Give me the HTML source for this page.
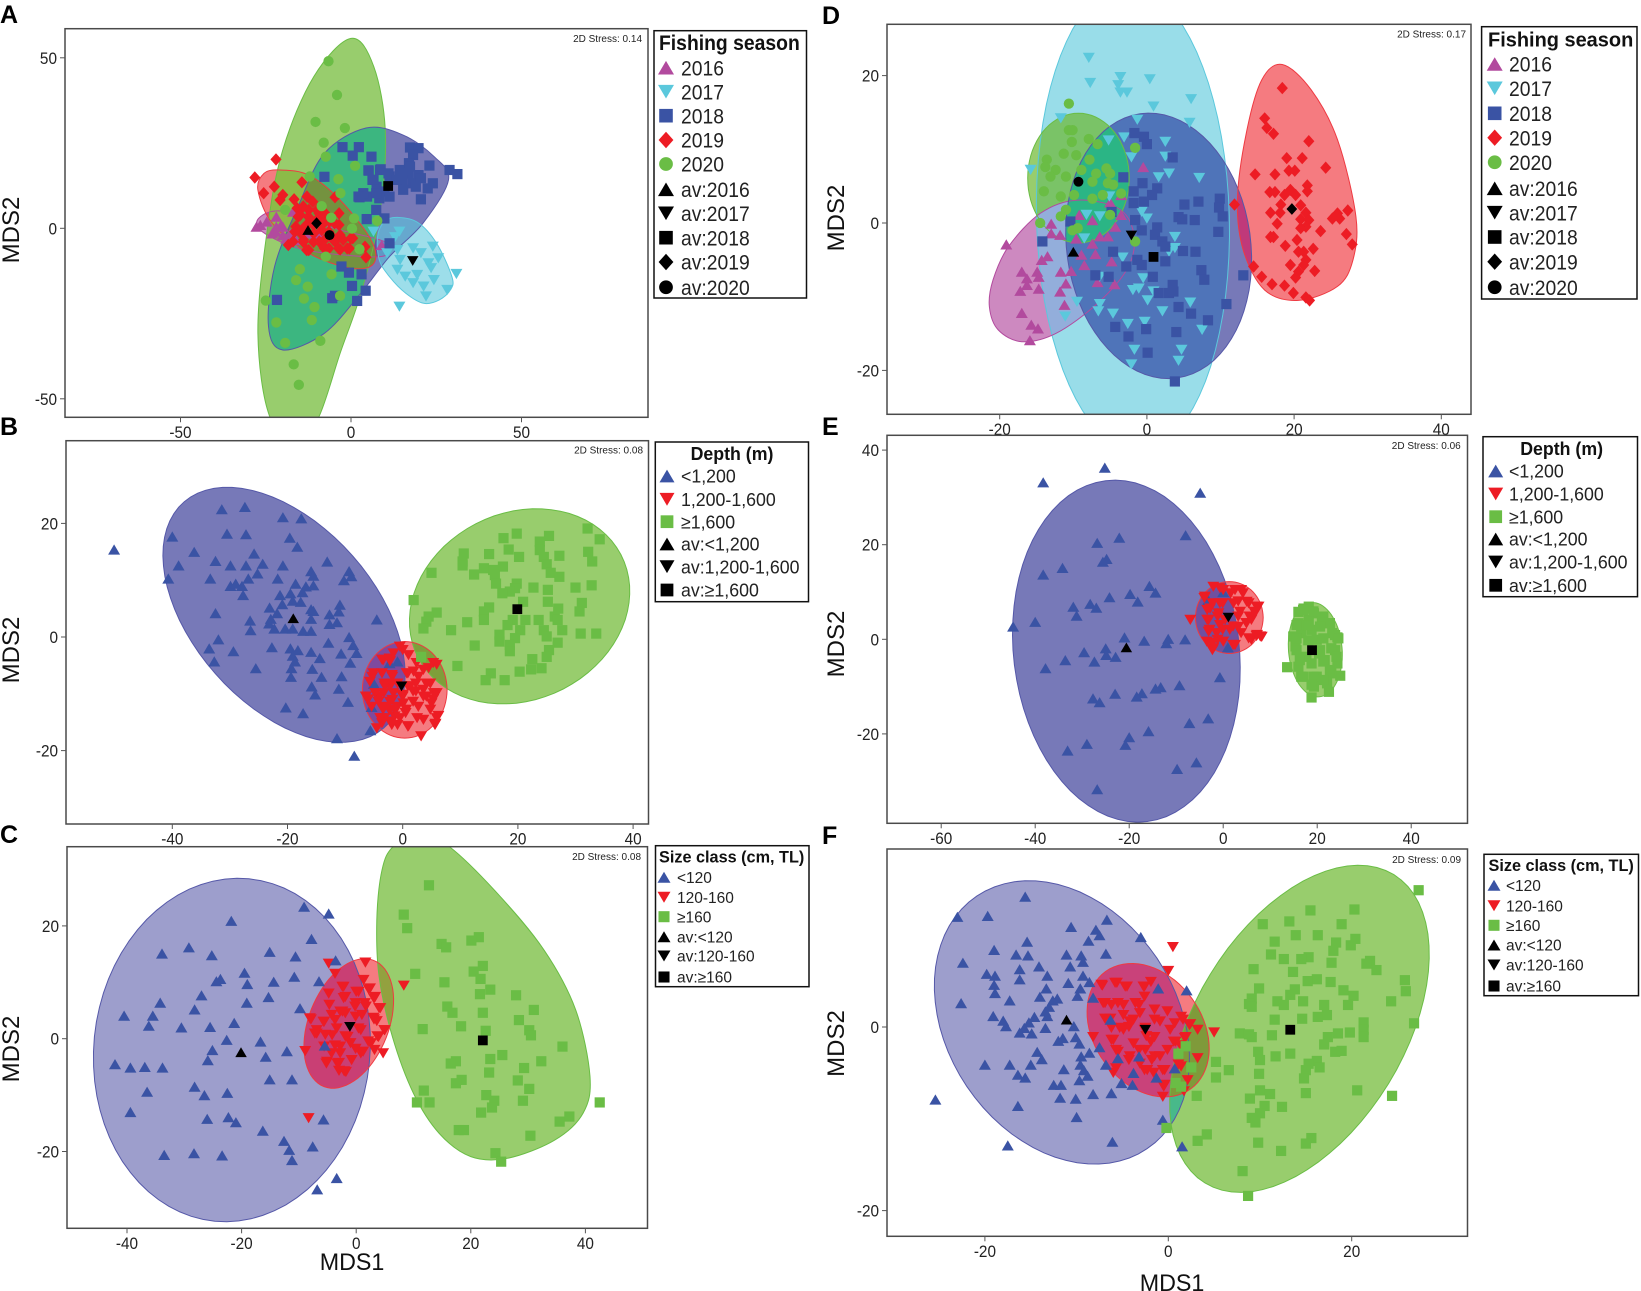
<!DOCTYPE html>
<html lang="en">
<head>
<meta charset="utf-8">
<title>MDS ordination panels A–F</title>
<style>
html,body{margin:0;padding:0;background:#fff;}
svg{display:block;font-family:"Liberation Sans",Arial,sans-serif;}
</style>
</head>
<body>
<svg id="figure" xmlns="http://www.w3.org/2000/svg" width="1641" height="1291" viewBox="0 0 1641 1291"></svg>
<script>
/* ---------- shared labels ---------- */
const seasonLabels=['2016','2017','2018','2019','2020','av:2016','av:2017','av:2018','av:2019','av:2020'];
const depthLabels=['<1,200','1,200-1,600','≥1,600','av:<1,200','av:1,200-1,600','av:≥1,600'];
const sizeLabels=['<120','120-160','≥160','av:<120','av:120-160','av:≥160'];
const stressValues={A:'0.14',B:'0.08',C:'0.08',D:'0.17',E:'0.06',F:'0.09'};

/* ---------- tick labels ---------- */
const aXTicks=[-50,0,50], aYTicks=[50,0,-50];
const bXTicks=[-40,-20,0,20,40], bYTicks=[20,0,-20];
const cXTicks=[-40,-20,0,20,40], cYTicks=[20,0,-20];
const dXTicks=[-20,0,20,40], dYTicks=[20,0,-20];
const eXTicks=[-60,-40,-20,0,20,40], eYTicks=[40,20,0,-20];
const fXTicks=[-20,0,20], fYTicks=[0,-20];

/* ---------- panel A ---------- */
const aHull2020=[[0,55.7],[6.7,47.4],[10.1,27.9],[8.3,3.4],[2.9,-19.1],[-3.2,-36.7],[-9.3,-55],[-15.4,-63],[-23.9,-55],[-27.3,-30.8],[-24.7,-1.5],[-20,23],[-10.9,44.5]];
const aHull2018=[[4.4,29.4],[15.2,27.4],[24.4,21],[28.6,14.2],[21.1,1.5],[11.3,-8.3],[2.9,-19],[-7.8,-30.8],[-20,-35.7],[-24.2,-28.8],[-22.4,-11.2],[-15.5,6.4],[-7.8,22]];
const aHull2019=[[-20.8,17.1],[-12.4,15.6],[-3.2,8.3],[5.9,-3.4],[6.7,-10.3],[0,-11.7],[-12.4,-7.3],[-23.1,1.5],[-27.3,11.2],[-25.5,16.1]];
const aHull2017=[[13.6,3.2],[19.6,1.7],[25.1,-4.4],[29.6,-14.2],[29.2,-18],[25.9,-21],[21.3,-22],[16,-19],[11.3,-14.2],[8.3,-9.3],[7.8,-2.4],[9.8,2]];
const aHull2016=[[-27,3],[-20,5],[-5,0],[10,-4],[10,-8],[0,-8],[-15,-6],[-26,-1]];
const a2016=[[-26.6,1],[-21.9,3.4],[-21.9,.5],[-20,-2],[-17.8,-1.5],[-27.7,.5],[-23.1,-1.5],[-17,4.9],[-12.4,-1.5],[9,-4.9],[-9.3,-1.5],[-20,.5],[-24.7,2],[-22,-1],[-20.5,1],[-19,-3],[-16,-3.5]];
const a2017=[[6.6,-1],[14.2,-1],[12.9,-2.6],[18.2,-5.9],[24,-5.4],[13.6,-6.4],[25.6,-8.8],[14.4,-9.3],[22.7,-10.3],[13.6,-12.2],[19.4,-13.7],[23.5,-11.7],[30.9,-13.4],[15.9,-14.2],[24.3,-15.2],[18.2,-16.1],[22,-20],[28.2,-18.1],[14.2,-23],[10.6,-7.3],[20.5,-7.3],[21.3,-17.1]];
const a2018=[[-2.5,23.8],[2.3,23.8],[.5,21.3],[6,21],[17.3,23.7],[19.8,23.5],[18.2,21.5],[17,19.1],[23,18.4],[28.9,17.1],[31.2,15.9],[5.2,16.9],[8.7,17.3],[-7.8,15.1],[6.3,14.2],[11.3,15.2],[14.3,17.1],[16.8,16.1],[19.8,15.6],[15.2,14.2],[18.2,13.2],[20.5,14.7],[24,13.2],[22.5,11.7],[19,12.2],[7.5,12.2],[9.8,10.8],[2.5,9.1],[4.7,9.3],[8.3,8.8],[20.5,8.5],[7.4,5.4],[9.8,2.9],[4.6,2.7],[11.3,-4.4],[-2.8,-11.2],[-.6,-13],[3.1,-13.5],[.3,-16.9],[4.3,-18.3],[-5.5,-20.5],[1.8,-21.3],[-21.7,-21],[-4.7,-19.8],[5.1,17],[8.5,17.1],[6.6,14.2],[3.6,10.3],[7.4,10.3],[2.2,9.3],[11,16.1],[13.4,14.2],[15.3,11.3],[11.3,9.3],[17.3,18.1]];
const a2019=[[-22,20.2],[-28.2,14.9],[-14.4,13.5],[-22.5,12.2],[-25.6,10.3],[-20,9.8],[-20.8,8.3],[-16.7,8.5],[-12.9,9.3],[-11.2,7.8],[-4.7,9.1],[-15.8,5.9],[-12.4,5.4],[-9.4,4.4],[-3.5,4.4],[-15.5,3.4],[-6.3,2],[-12.4,1.7],[-16.2,.5],[-3.5,1],[-8.6,-.5],[-14.7,-1.5],[-10.9,-1.5],[-3.2,-2],[-13.9,-3.4],[-7.8,-3.4],[-4.7,-3.9],[.5,-2.9],[-18.4,-4.9],[-12.4,-6.4],[-7.8,-5.9],[-3.2,-6.2],[-.5,-5.9],[4.1,-5.4],[4.4,-8.5],[-5.5,-2.4],[-9.3,-3.9],[-17,-3.9],[-14,6.4],[-10,5.4],[-14.9,3.9],[-12.5,3.4],[-9.5,2.9],[-7.6,4.4],[-8,1.5],[-4.8,1.5],[-16.5,-1],[-14,0],[-14,-4],[-11,-4],[-8,-5.4],[-6.5,-5.9],[-3.6,-5.9],[-1.1,-5.9],[0,-2.9],[-13,-6.4],[-5.2,-3.4],[-2.3,-3.4],[-10.5,2],[-6.5,-1],[-11,1]];
const a2020=[[-6.6,49],[-4.1,39.1],[-10.4,31.2],[-1.8,29.4],[-8,25.1],[-7.4,21],[1.2,18.3],[-12.1,15.2],[-3.7,14.4],[-3.1,10.3],[-8.6,6.5],[-19.3,5.4],[-5.8,3.1],[.9,2.9],[7.7,2.2],[.3,-.1],[2.5,-6.1],[-7.4,-8.3],[-15,-12],[-5.7,-13.5],[-16.1,-15.2],[-12.7,-17.1],[-25,-21.2],[-13.8,-20.6],[-3.2,-19.8],[-10.7,-23.1],[-11.5,-26.9],[-21.9,-27.6],[-9,-33],[-19.3,-33.6],[-16.8,-39.9],[-15.3,-45.9]];
const aAverages=[[-12.6,-.5],[18.1,-9.6],[10.9,12.4],[-10.1,1.5],[-6.3,-2]];

/* ---------- panel B ---------- */
const bHullLow=[-20.6,3.9,15.8,26.4,41];
const bHullMid=[.35,-9.3,7.35,8.5,0];
const bHullHigh=[20.3,5.4,19.8,16.4,27.5];
const bLow=[[-50.1,15.4],[-8.4,-20.9],[-31.4,22.5],[-27.4,22.9],[-20.8,21.1],[-17.6,20.9],[-40,17.7],[-30.5,18.2],[-27.2,18.1],[-19.6,17.5],[-18.3,15.9],[-36.2,15],[-25.8,14.7],[-38.9,12.6],[-32.5,13.4],[-29.9,12.6],[-27.2,12.6],[-24.3,12.9],[-20.8,12.6],[-13.1,13.3],[-15.9,11.6],[-25.2,11.2],[-15.5,10.8],[-9.3,11.6],[-8.9,10.7],[-40.7,10.3],[-33.4,10.3],[-26.8,10.3],[-21.7,10.3],[-10.2,10],[-29.9,9],[-29,9.4],[-27.9,9],[-18.6,9.4],[-16.8,8.9],[-15.5,9.1],[-27.7,7.4],[-21.3,7.4],[-19.5,7.7],[-17.4,7.9],[-19.1,6.4],[-17.7,6.2],[-20.9,5.8],[-23.1,5.2],[-10.9,5.7],[-15.9,4.9],[-15.5,4.6],[-32.5,4.2],[-12.7,4],[-11.1,4.5],[-21.8,4.2],[-4.5,3.1],[-26.5,2.9],[-22.9,3.2],[-15.9,3.2],[-11.4,2.6],[-12.7,2.3],[-23.2,2.4],[-22.3,1.5],[-26.4,1.2],[-20.4,1.5],[-19.1,1.5],[-17.3,1.1],[-15.9,1.1],[-9.3,0],[-32,-.4],[-12.9,-1],[-8.6,-1.4],[-22.7,-1.8],[-19.5,-2],[-18.2,-2.3],[-33.6,-2],[-29.4,-2.5],[-15.9,-2.6],[-10.7,-2.9],[-8,-2.8],[-19.1,-3.3],[-14.4,-3.7],[-32.7,-4.3],[-18.7,-4.3],[-9.1,-4.5],[-25.5,-5.5],[-19.3,-5.5],[-15.7,-5.6],[-19.4,-7],[-14.1,-7],[-10.6,-6.9],[-15.8,-8.7],[-11.1,-9.1],[-15.2,-10.1],[-9.5,-11.4],[-20.3,-12.4],[-17.3,-13.4],[-5.6,-16.4],[-11.4,-17.8],[-2.3,-4.6],[-5,-8.2],[-.9,-4.3],[-5.4,-12.3]];
const bMid=[[3.2,-17.5],[5.3,-4.6],[5.9,-4.9],[4.5,-5.5],[-3.6,-4],[-2.3,-3.8],[0,-2.3],[-5.3,-7],[-3.6,-6.4],[-1.8,-7],[.9,-6.4],[2.7,-7],[4.1,-8.2],[-6.4,-10.5],[-4.1,-10.5],[-2.3,-8.7],[0,-10.5],[2.3,-9.6],[5.4,-9.9],[4.1,-10.5],[1.8,-11.4],[-5.4,-12.3],[-3.2,-12.3],[-.9,-12.3],[.5,-13.4],[2.7,-12.3],[5,-11.7],[6.2,-13.9],[5.7,-15.3],[-3.2,-14.3],[-1.4,-14],[-3.6,-15.2],[-.9,-15.5],[.9,-15.8],[3.6,-14.6],[-1.8,-11.1],[.9,-8.7],[3.6,-9.3],[-3.2,-8.2],[-.9,-8.2],[2.3,-8.2],[-2.3,-12.9],[-4.5,-16.1],[-.5,-1.7],[-1.6,-2.9],[1,-3.2],[-3.4,-4.1],[-2.2,-4.3],[2.4,-4.6],[3.6,-5.8],[-1.9,-6.7],[.7,-6.4],[1.9,-6.1],[-5.1,-6.4],[-5.7,-7.9],[-3.1,-8.7],[-1.9,-8.2],[1.3,-8.7],[4.8,-8.2],[-4.8,-9.9],[-3.3,-9.9],[-1.6,-9.9],[0,-10.2],[1.8,-9.6],[5.9,-9.9],[-6,-11],[-4.2,-11.4],[-2.2,-11.4],[.1,-11.7],[3.6,-10.5],[5.3,-11],[-3.4,-12.8],[-1.4,-12.8],[.6,-12.8],[4.8,-12.8],[-3.9,-14.3],[-2.2,-14.9],[-.5,-14.3],[1,-15.7],[2.5,-14.3],[5.9,-14.3],[5.6,-15.5],[-1.9,-15.5]];
const bHigh=[[32.1,19.1],[19.8,18.2],[25.4,17.8],[17.5,17.4],[34.2,17.2],[23.8,16.8],[18.4,15.4],[23.8,15.3],[32.2,15],[10.6,14.7],[15,14.6],[20.2,14.1],[27.2,14.3],[24.5,14.1],[32.9,13.3],[10.4,13.3],[25,12.8],[14.1,12.1],[10.4,12.6],[17.4,12.4],[15.7,11.8],[5,11.3],[25.7,11.3],[12.4,11],[16,10.9],[27.2,10.6],[16.2,9.4],[19.8,9.4],[32.8,9.1],[30,8.7],[22.7,8.7],[19.5,8.6],[25.2,8.3],[18.6,8],[17.3,7.7],[1.9,6.5],[25.2,6.2],[20.9,6.2],[31.1,6],[15,5.2],[27,5],[14.1,4.5],[30.7,4.5],[5.9,4.3],[4.5,3.6],[26.4,3.6],[19.1,3],[21.3,3],[23.6,3],[14.1,3],[11.2,2.6],[4.1,2.7],[26.9,3],[18.2,2.1],[3.6,1.5],[8.4,1.2],[27.7,1.2],[24.5,1.2],[30.9,.6],[33.6,.6],[20.4,1.2],[16.8,.4],[25,.1],[19.5,-.2],[26.9,-1],[12.5,-1.5],[16.8,-.8],[18.6,-1.4],[25.4,-2.3],[18.6,-2.5],[25,-3.5],[22.5,-3.9],[3.2,-3.5],[9.5,-5.1],[24.1,-5.5],[22.3,-5.7],[20.3,-6.1],[15.3,-6.4],[14.4,-7.6],[17.7,-7.6]];
const bAverages=[[-19,3.3],[-.2,-8.7],[19.9,4.9]];

/* ---------- panel C ---------- */
const cHullLow=[-21.7,-2,24.1,30.5,-5.6];
const cHullMid=[-1.3,2.7,7,12,-21];
const cHullHigh=[[6.4,34],[10.9,36.4],[16.3,34],[24.6,25.8],[32.8,15.7],[38.3,5.1],[40.8,-6.7],[39.6,-13.2],[34.6,-18],[26.4,-21.2],[20,-20.9],[14.5,-16.8],[10,-9.7],[6.3,.4],[4,11],[3.6,21],[4.5,29.9]];
const cLow=[[-9.1,23.4],[-4.8,22.2],[-21.8,20.9],[-7.8,17.7],[-33.9,15.1],[-29.2,16.2],[-25.2,14.8],[-15.1,15.4],[-10.6,14.6],[-3.6,13.9],[-19.5,11.7],[-23.7,10.6],[-24.4,10.2],[-19,9.7],[-14.4,10.1],[-10.8,11],[-6.5,10.2],[-27,7.7],[-15.3,7.4],[-34.2,6.4],[-19.1,6.4],[-28.2,5.2],[-9.8,5.4],[-40.5,4.1],[-35.5,4.1],[-36.2,2.3],[-30.5,2],[-25.5,2.1],[-21.3,2.8],[-22.6,-.2],[-16.7,-.5],[-25.1,-2],[-12.1,-2.2],[-15.8,-3.2],[-25.9,-3.8],[-5.5,-1.2],[-42.1,-4.5],[-39.4,-5.1],[-36.9,-5],[-33.8,-5.1],[-15.1,-7.2],[-11.2,-7.2],[-28.2,-8.5],[-36.5,-9.4],[-22.5,-9.6],[-26.5,-10],[-39.4,-13],[-26,-14.2],[-22.3,-13.9],[-21,-14.8],[-5.7,-14.3],[-16.3,-16.3],[-12.6,-18.1],[-11.7,-19.7],[-7.6,-19.1],[-11.2,-21.5],[-33.5,-20.6],[-28.3,-20.3],[-23.4,-20.7],[-3.4,-24.7],[-6.8,-26.7]];
const cMid=[[8.3,9.4],[-8.3,-14.1],[-4.8,13.3],[1.6,13.5],[-3.7,11.5],[-2.4,9.2],[-4.8,8],[.4,8.3],[2.2,8.7],[1.3,10.4],[-1.9,7.4],[3.1,7.1],[-4.7,6],[-.1,6.3],[1.7,5.7],[4,5.4],[-2.4,4.8],[-7.9,3.4],[-5.6,3],[-3.7,3.3],[-.1,3.9],[3.1,3.4],[4.9,1.5],[-6.9,.9],[-4.2,.6],[-1.9,.4],[.8,1.5],[3.7,.4],[-8.9,-2.2],[-2.8,-1.4],[2.6,-.8],[.8,-2.6],[4.7,-2.6],[-5.1,-4.1],[-.8,-3.8],[-3.3,-4.4],[-2.1,-5.8],[-5.6,-1.4],[-1,-.8],[-6.9,1.5],[-2.2,9.2],[0,8.3],[2.4,8.9],[3.3,7.4],[-2.2,7.2],[-.2,5.7],[1.5,6.3],[4.2,5.4],[-2.8,4.8],[-1.9,4.5],[-8.1,3.6],[-5.7,3],[-4.3,4.2],[1,4.2],[3,3.7],[3.6,3.1],[-7.2,.9],[-5.4,.7],[-3.4,1.8],[.4,1.8],[5,1.5],[3.9,.3],[2.1,-.5],[-3.7,-1.2],[-.1,-1.8],[3.2,-2],[1.2,-2.3],[-4.3,-2.6],[-2.8,-2.6],[-5.2,-4.4],[-3,-4.3],[-3,-5.7],[-1.8,-5.9],[-1.5,.3]];
const cHigh=[[12.7,27.2],[8.3,22],[8.9,19.6],[21.4,18],[20.1,17.4],[14.9,16.8],[15.7,16.2],[22.1,12.9],[10.3,11.5],[20.5,11.9],[21.7,10.6],[15.4,10],[23.4,8.7],[21.6,7.9],[27.9,7.7],[15.9,5.7],[16.8,4.6],[22.1,4.6],[31,5.1],[28.4,3.3],[18.3,2.2],[11.6,1.7],[22.6,1.4],[30.2,1.5],[30.5,.6],[36,-1.4],[25.5,-2.9],[23.4,-3.6],[32.3,-4],[17.4,-4],[16.5,-4.4],[29.3,-5.2],[23.2,-6],[18.4,-7.3],[28.2,-7.4],[17.4,-7.9],[30.2,-8.9],[11.8,-9.2],[22.7,-10],[10.6,-11.3],[12.8,-11.3],[24.1,-11],[29.1,-11],[23.7,-12.2],[21.8,-13.1],[42.5,-11.3],[37.2,-13.8],[35.5,-14.7],[17.9,-16.2],[18.8,-16.2],[30.4,-17.2],[24.3,-20.3],[25.3,-21.8]];
const cAverages=[[-20.1,-2.4],[-1.1,2.1],[22.1,-.3]];

/* ---------- panel D ---------- */
const dHull2017=[-1.9,.6,13.1,31.6,1.5];
const dHull2016=[[-21.4,-11.4],[-20.9,-7.7],[-18.8,-3.2],[-14.5,1.3],[-9.6,3.1],[-3.9,2],[-1.8,-1.4],[-2.5,-5.9],[-6.7,-10.9],[-12.4,-15],[-17,-16.1],[-20.2,-14.5]];
const dHull2018=[1.6,-3.1,12.5,18.1,8];
const dHull2020=[-9.3,6.1,6.9,8.8,0];
const dHull2019=[[18.4,21.5],[22.3,18.1],[25.9,11.3],[28.4,.9],[28,-5],[25.9,-8.6],[20.6,-10.5],[16,-9.1],[13.1,-3.7],[12.3,3.1],[13.5,12.2],[15.6,19.4]];
const d2016=[[-19.1,-2.9],[-.5,7.6],[-5,2.8],[-3.5,3.8],[-9.2,1.1],[-7.4,.4],[-3.5,1.1],[-13,-.1],[-13,-1.4],[-11.8,-1.6],[-4.3,-.5],[-9.6,-2.1],[-6.4,-1.8],[-5.3,-1.8],[-7.4,-2.8],[-13.5,-4.5],[-14.3,-5],[-8.9,-4.3],[-7,-4.2],[-4.8,-5.2],[-8.5,-5.7],[-17,-6.6],[-14.9,-6.6],[-11.7,-6.6],[-10.3,-6.5],[-16.3,-7.5],[-14.7,-7.3],[-11,-8.2],[-6.7,-8],[-4.4,-8.3],[-16.3,-8.4],[-14.7,-8.9],[-17.2,-9.2],[-11.8,-9.3],[-11.2,-11.1],[-17,-12.2],[-15.7,-13.8],[-14.8,-14.3],[-15.9,-15.9]];
const d2017=[[-7.9,22.4],[-7.7,19],[-3.6,19.8],[.4,19.5],[-3.9,18.7],[-3.6,17.7],[-2.7,17.7],[.9,15.8],[6,16.8],[5.8,13.6],[-11.7,14.2],[-1.3,14],[-5.2,11.2],[-3.1,11.6],[2.5,11],[-2.1,8.9],[2.5,9],[-15.8,7.2],[1.6,6.2],[3,6.7],[7.1,6.1],[-5.1,3.6],[-8.2,1.1],[-6.4,.9],[-.7,1.5],[0,.6],[-8.5,-2.1],[3.8,-1.9],[3.8,-3.4],[3,-3.9],[-3.3,-4.7],[-6.4,-7.3],[-.5,-7.5],[-1.9,-9.1],[-1.1,-8.9],[.9,-9.3],[.1,-10.5],[-9.5,-10.7],[-6.4,-11],[-6.6,-12],[-4.6,-12.3],[2.1,-12],[5.9,-10.8],[-11.1,-12.7],[-2.6,-13.7],[-.3,-13.4],[7.5,-14.5],[-1.7,-17.2],[4.7,-17.2],[4.3,-18.7],[-2.1,-19.2]];
const d2018=[[-1.7,12.2],[-.4,11.7],[0,10.7],[3.5,8.9],[-3.2,6.2],[-.6,5.4],[1.4,4.7],[-1.8,4.3],[.7,3.8],[-.4,2.9],[-1.8,2.7],[5.1,2.5],[7,2.9],[9.9,3.3],[9.8,2.1],[10.3,.9],[-4.8,1.5],[-1.6,.4],[4.3,.8],[4.8,.5],[6.5,.4],[-10.4,.2],[-14.2,-2.5],[1.4,-.6],[-.7,-1],[9.7,-1.2],[1.1,-1.6],[2.1,-2.5],[2.5,-3.2],[-4.6,-3.9],[4.9,-3.8],[6.6,-3.9],[-1.3,-5],[-.7,-5.7],[2.5,-5.2],[-2.8,-5.9],[7.4,-6.4],[7.8,-7.7],[-7,-7.1],[-5.2,-7.3],[.8,-7.3],[13.1,-7.1],[3.5,-8.4],[1.6,-9.5],[3,-9.5],[3.6,-9.3],[10.8,-11],[4.3,-11.4],[6,-12.3],[8.3,-13.2],[-4.3,-14.1],[-.1,-14.4],[4,-14.8],[-2.5,-15.4],[.1,-17.6],[3.8,-21.5]];
const d2019=[[18.4,18.3],[16,14.2],[16.3,12.9],[17.2,12.1],[22,11.1],[19,8.8],[21.1,8.8],[24.3,7.5],[14.7,6.6],[17.4,6.6],[19.3,7.1],[20.1,7.1],[21.8,5.1],[21.8,4.3],[16.7,4.2],[17.4,4.2],[19.5,4.5],[18.7,3.8],[20.2,3.8],[11.9,2.5],[18.2,2.5],[20.9,2.4],[16.8,1.4],[18.1,1.4],[21.6,1.4],[27.3,1.7],[25.9,1.3],[25.2,.6],[26.2,.6],[20.9,.5],[22,.4],[17.7,-.1],[21.6,-.5],[20.9,-.7],[23.6,-1.1],[16.8,-1.9],[17.2,-1.9],[27.1,-1.5],[20.4,-2.3],[27.9,-2.9],[18.8,-3.1],[22.6,-3.5],[20.6,-3.9],[21.3,-3.9],[21.6,-5],[19.5,-5.7],[21.3,-5.7],[14.5,-5.9],[22.8,-6.5],[20.6,-6.6],[15.6,-7.3],[20.2,-7.4],[17,-8.3],[18.7,-8.5],[19.9,-9.5],[21.6,-10.1],[22.1,-10.5]];
const d2020=[[-10.6,16.2],[-10.6,12.6],[-10.1,12.6],[-10.2,11],[-7.9,11.4],[-6.7,10.7],[-1.6,10.2],[-11.3,9.4],[-9.6,9.2],[-13.6,8.6],[-7.8,8.6],[-13.8,7.6],[-12.4,7.2],[-8.9,7.2],[-6.9,6.7],[-5.5,7.4],[-5,6.7],[-13.1,6.3],[-11,6.3],[-5.3,5.4],[-4.6,5.2],[-7.4,5.6],[-14,4.3],[-11.7,3.6],[-9.9,3.8],[-7.4,3.3],[-6,3.8],[-3.5,4],[-11,1.8],[-11.7,.9],[-5,1.1],[-14.5,0],[-10.1,-1],[-9.4,-.7],[-1.6,-2.5]];
const dAverages=[[-10,-3.9],[-2.1,-1.7],[.9,-4.6],[19.7,1.9],[-9.3,5.6]];

/* ---------- panel E ---------- */
const eHullLow=[-20.6,-2.5,24,36.3,7];
const eHullMid=[1.3,4.6,7.2,7.6,0];
const eHullHigh=[19.6,-2.2,5.7,10,5];
const eLow=[[-38.3,33.2],[-25.2,36.3],[-4.9,31],[-22.1,21.5],[-8,22],[-26.8,20.4],[-24.8,17],[-25.6,16.4],[-34.2,15.1],[-38.3,13.7],[-15.7,11.3],[-14.4,9.9],[-19.8,9.6],[-24.2,8.9],[-18.2,8],[-28.3,7.5],[-31.9,6.9],[-27,6.7],[-31.2,5],[-40,3.7],[-44.7,2.7],[0,10],[-3.2,8.3],[-21,.4],[-16.8,-.3],[-11.7,.1],[-12.1,-.8],[-8.1,0],[1,-1.7],[-25,-1.9],[-24.9,-3.3],[-22.9,-3.7],[-29.6,-2.7],[-27.4,-4.7],[-33.6,-4.4],[-37.8,-6.1],[-.7,-8],[-9.3,-9.7],[-13.3,-10.1],[-14.4,-10.4],[-17.3,-11.4],[-18.4,-12.1],[-23,-11.5],[-27.7,-12.5],[-26.3,-13.3],[-3.2,-16.7],[-7.2,-17.7],[-15.9,-19.4],[-20,-20.7],[-20.8,-22.3],[-29,-22.1],[-33.1,-23.5],[-5.7,-26],[-9.8,-27.4],[-26.8,-31.7]];
const eMid=[[-7,4.1],[7.9,.6],[-2.3,-2.3],[7.1,6.9],[-4,8.7],[-.7,10.8],[3.8,10.4],[1.6,9.7],[-2.3,7.6],[-3.4,6.2],[-.1,7.6],[3.2,8],[5.4,7.6],[6.6,5.8],[6,4.1],[-3.4,4.1],[-1.2,4.8],[3.2,4.8],[4.9,3.4],[-2.9,2],[-.1,2],[2.1,2.7],[3.8,1.3],[-1.2,-.1],[2.1,-1.2],[6,-.1],[-2.3,-.8],[7.1,.7],[.4,4.1],[-2.1,11.1],[-3.9,9],[0,10.4],[2.5,10.4],[4.2,9.7],[-2.8,6.5],[-.7,7.6],[2.2,7.6],[5,7.9],[7.5,6.9],[-3.1,4.1],[-1,5.5],[3.6,5.8],[5.6,4.8],[6.8,5.6],[-3.1,1.6],[-.7,3],[-1.4,1.3],[1.4,2],[3.2,2.6],[5,3.4],[-3.5,-.5],[-2.1,-1.9],[0,-.5],[2.5,-1.2],[5.4,.2],[7.2,.9],[8.2,.5]];
const eHigh=[[13.6,-5.9],[18.8,-12.3],[22.5,-11.1],[24.9,-7.7],[24.3,.4],[17.1,6.5],[16,5.8],[18.2,6.9],[19.3,5.5],[16,3.4],[18.2,4.1],[21,4.1],[14.9,.6],[16.6,1.3],[22.7,3.4],[23.2,1.3],[15.4,-1.5],[19.9,-.1],[23.8,-2.3],[17.7,-3.7],[21.6,-4.4],[16.6,-7.9],[19.9,-7.9],[23,-7.2],[19.3,-10],[22.1,-9.3],[16,-5.8],[18.8,2],[20.4,-3],[24.3,-5.1],[17,6.2],[19.2,5.9],[21.3,4.8],[22.7,3.4],[15.6,3],[18.1,3],[20.6,2.7],[23.8,.9],[24.5,.2],[15.6,.2],[18.1,-.2],[21.3,.2],[23,-1.9],[15.6,-2.3],[20.6,-2.3],[24.1,-3.7],[16.3,-4.4],[18.8,-5.1],[21.3,-4.7],[22.7,-6.5],[17,-7.9],[19.2,-7.9],[21.3,-8.6],[18.8,-9.6]];
const eAverages=[[-20.6,-1.7],[1.1,4.6],[18.9,-2.3]];

/* ---------- panel F ---------- */
const fHullLow=[-11.6,.5,12.5,16.6,34];
const fHullMid=[-2.2,-.35,5.9,7.9,36];
const fHullHigh=[14.3,-.2,11.4,19.7,-31.5];
const fLow=[[-15.6,14.2],[-23,12],[-19.7,12.1],[-6.7,11.7],[-10.6,10.9],[-7.9,10.6],[-7.5,10],[-3,9.8],[-8.7,9.4],[-15.4,9.3],[-19,8.4],[-16.6,7.9],[-15.3,7.8],[-11.1,7.9],[-9.5,7.8],[-6.8,8],[-22.4,7],[-9.3,7.1],[-14.1,6.6],[-10.7,6.6],[-16.2,6.3],[-19.8,5.8],[-18.9,5.6],[-13.2,5.6],[-9.3,5.6],[-16.2,5.2],[-8.6,4.9],[-19,4.6],[-10.9,4.8],[-13.3,4.2],[-1.1,4.2],[2,4],[-18.9,3.7],[-9.6,4.2],[-9.9,3.4],[-14,3.3],[-12.1,3.1],[-12.6,2.9],[-17.3,2.9],[-8.2,3.2],[-22.6,2.6],[-13,2.2],[-13.4,1.7],[-19.1,1.2],[-14.6,1.1],[-13.2,1.2],[-18,.7],[-15.2,.5],[-17.7,.1],[-10.3,.1],[-13.4,-.1],[-15.7,-.1],[-16.2,-.6],[-14.9,-.7],[-10.1,-1.1],[-11.5,-1.2],[-12,-1.5],[-9.7,-1.8],[-7.5,-2.2],[-8.6,-2.8],[-14.3,-2.7],[-9.5,-3.2],[-13.8,-3.5],[-5.5,-3.4],[-3.2,-3.2],[-20,-4.1],[-17.3,-4.1],[-15,-4.1],[-9.6,-4.1],[-6.8,-4.1],[.7,-4.5],[-11.4,-4.6],[-9.2,-4.7],[-3.8,-5],[-16.4,-5.2],[-15.6,-5.5],[-8.8,-5.3],[-1.3,-5.5],[-9.7,-5.8],[-12.5,-6.3],[-11.7,-6.3],[-5.1,-6.1],[-3.9,-6.3],[-8.2,-7.3],[-6.2,-7.2],[-11.8,-7.7],[-10.1,-7.8],[-25.4,-7.9],[-16.4,-8.6],[-10,-9.8],[-.6,-10.1],[-6.1,-12.5],[-17.5,-12.9],[1.5,-13],[-6.3,.8]];
const fMid=[[.5,8.7],[0,6.1],[-7.2,4.5],[-5.6,4.8],[-4.5,4.4],[-1.9,4.9],[-2.6,4.4],[-6.9,2.6],[-5.5,2.6],[-3.2,2.4],[-1.5,1.9],[-.1,1.7],[-6.3,.9],[-4.9,1.3],[-3.8,.8],[-1.5,.8],[1.4,1.1],[2.3,.2],[3.2,-.3],[5,-.6],[-8.2,-1.1],[-6,-1.4],[-4.9,-.3],[-3.8,-1.8],[-1.5,-1.1],[.8,-1.6],[1.9,-1.1],[-5.5,-2.7],[-3.2,-2.5],[-1.5,-3.2],[-.1,-2.5],[3.2,-3.4],[-5.7,-4.5],[-4.3,-3.6],[-2.3,-4.7],[-.6,-4.7],[1.4,-4.3],[2.1,-5.8],[-.5,-6.5],[1.7,-7],[-.6,-7.6],[-2.6,-.3],[.2,-.3],[-4.3,0],[-7.3,4.6],[-5.8,4.8],[-4.7,4.4],[-2.7,4.4],[-7.1,2.6],[-6.2,2.4],[-4.9,2.4],[-3.6,2.6],[-2.6,3.3],[-6.9,.9],[-6.2,-.1],[-5.3,-.1],[-4.2,.6],[-3.1,1.5],[-2.5,-.1],[-.9,.6],[.7,.4],[1.6,.8],[2.4,.3],[-6.2,-1.4],[-2.4,-1],[-1.9,-1.6],[.6,-1.6],[1.3,-2],[1.8,-1.2],[-5.7,-2.5],[-4.2,-3.2],[-2.5,-2.5],[-1.8,-3.6],[-.9,-3.2],[-6,-5],[-3.1,-4],[-2.6,-4.7],[-1.6,-5],[-.4,-4.7],[1.1,-4.1],[-.4,-6.3]];
const fHigh=[[27.3,14.9],[15.5,12.7],[20.3,12.8],[10.3,11.2],[13.2,11.5],[18.9,11.2],[13.9,10],[16.3,10],[11.6,9.3],[18.3,9.2],[20.4,9.6],[19.9,8.9],[11.2,7.9],[12.6,7.4],[18,8.3],[15.3,7.6],[14.5,7.4],[17.8,7],[22,7.2],[21.6,6.9],[22.7,6.2],[9.3,6.3],[13.6,6],[25.8,5.1],[16.2,5.2],[15.2,5],[17.7,4.9],[9.9,4.2],[19.1,4],[25.9,3.9],[13.8,4.1],[13.3,3.5],[20.2,3.4],[9.1,3.1],[24.3,2.8],[11.9,2.8],[14.7,2.8],[12.6,2.4],[17,2.4],[19.6,2.4],[8.8,2.5],[9.1,2.2],[17.3,1.3],[16.3,1.1],[11.6,.8],[14.6,.9],[26.8,.4],[21.3,.5],[21.3,-.3],[7.8,-.7],[8.8,-.8],[9.1,-1.1],[11.3,-.9],[18.5,-.7],[19.8,-.6],[17.4,-1.1],[21.3,-1.1],[17,-1.9],[9.8,-2.7],[18.2,-2.7],[18.9,-2.6],[11.7,-3.2],[13.3,-2.9],[10,-3.6],[16.2,-3.7],[5.2,-3.8],[15.3,-4],[16.5,-4.4],[6.6,-4.7],[2.5,-4.4],[9.9,-5.1],[15,-4.7],[14.8,-5.6],[5.2,-5.5],[10,-6.9],[20.6,-6.9],[15,-7.2],[11.1,-7.3],[3.1,-7.5],[24.4,-7.5],[8.9,-7.8],[12.4,-8.7],[10.5,-8.6],[10,-9.4],[9.1,-9.9],[9.5,-10.4],[-.2,-11],[4.2,-11.7],[3.2,-12.4],[9.8,-12.6],[15.6,-12.1],[15,-12.7],[12.3,-13.5],[8.1,-15.7],[8.7,-18.4],[1.4,-6.5],[1.9,-2.1],[1.1,-2.9],[.8,-6.1]];
const fAverages=[[-11.1,.8],[-2.5,-.3],[13.3,-.3]];

/* ---------- colours ---------- */
const MAGENTA='#b24a9e',CYAN='#5bc8dc',BLUE='#3a53a4',RED='#ed1c24',GREEN='#6abd45';
const HULLBLUE='#2e3192',HULLGREEN='#6cb82f',LINEBLUE='#5558a8',LINERED='#ee3a42';

/* ---------- panel layout ---------- */
const panels=[
 {id:'A',letter:[0,23],rect:[65,28.7,648,417.3],x0:351,kx:3.41,y0:228.3,ky:3.41,xTicks:aXTicks,yTicks:aYTicks,
  stress:[642,38.7],ylab:[19,230],
  hulls:[{d:aHull2016,c:MAGENTA,a:.65,s:MAGENTA},{d:aHull2020,c:HULLGREEN,a:.7,s:GREEN},{d:aHull2018,c:HULLBLUE,a:.65,s:LINEBLUE},{d:aHull2017,c:CYAN,a:.6,s:CYAN},{d:aHull2019,c:RED,a:.58,s:LINERED}],
  overlaps:[[2,1,'#3cb680'],[4,1,'#8cbb48'],[4,2,'#74923f']],
  series:[[a2016,'up',MAGENTA],[a2017,'down',CYAN],[a2018,'square',BLUE],[a2019,'diamond',RED],[a2020,'circle',GREEN]],
  averages:aAverages,avShapes:['up','down','square','diamond','circle'],
  legend:{box:[654,30.7,806.5,298],title:'Fishing season',titleX:659,titleY:42.7,titleAnchor:'start',fs:21,sx:.92,tfs:20.8,tsx:.93,mx:666,tx:681,ms:16,
   labels:seasonLabels,rows:[67.7,91.7,115.7,140,164,189.3,213.3,237.7,262,287.3],
   shapes:['up','down','square','diamond','circle','up','down','square','diamond','circle'],
   colors:[MAGENTA,CYAN,BLUE,RED,GREEN,'#000','#000','#000','#000','#000']}},
 {id:'B',letter:[0,435],rect:[66,440.7,648.5,824],x0:402.7,kx:5.76,y0:637,ky:5.68,xTicks:bXTicks,yTicks:bYTicks,
  stress:[643,450],ylab:[19,650],
  hulls:[{d:bHullLow,c:HULLBLUE,a:.65,s:LINEBLUE},{d:bHullHigh,c:HULLGREEN,a:.7,s:GREEN},{d:bHullMid,c:RED,a:.58,s:LINERED}],
  overlaps:[[2,0,'#7e4a9e'],[2,1,'#7f9e3a']],
  series:[[bLow,'up',BLUE],[bMid,'down',RED],[bHigh,'square',GREEN]],
  averages:bAverages,avShapes:['up','down','square'],
  legend:{box:[655.3,442,808.5,601.7],title:'Depth (m)',titleX:732,titleY:453.3,titleAnchor:'middle',fs:18.5,sx:.96,tfs:18.5,tsx:.96,mx:667,tx:681,ms:15,
   labels:depthLabels,rows:[476,499.3,521.7,544,566.7,590],
   shapes:['up','down','square','up','down','square'],colors:[BLUE,RED,GREEN,'#000','#000','#000']}},
 {id:'C',letter:[0,843],rect:[67,846.7,647.5,1228.3],x0:356.2,kx:5.73,y0:1038.7,ky:5.64,xTicks:cXTicks,yTicks:cYTicks,
  stress:[641,856.7],ylab:[19,1049],xlab:[352,1270],
  hulls:[{d:cHullLow,c:HULLBLUE,a:.47,s:LINEBLUE},{d:cHullHigh,c:HULLGREEN,a:.7,s:GREEN},{d:cHullMid,c:RED,a:.58,s:LINERED}],
  overlaps:[[2,0,'#c93f74'],[2,1,'#93a13f']],
  series:[[cMid,'down',RED],[cLow,'up',BLUE],[cHigh,'square',GREEN]],
  averages:cAverages,avShapes:['up','down','square'],
  legend:{box:[655.5,845.7,809,986.7],title:'Size class (cm, TL)',titleX:659,titleY:856.7,titleAnchor:'start',fs:15.5,sx:1,tfs:16.5,tsx:.985,mx:664,tx:677,ms:13,
   labels:sizeLabels,rows:[877.3,897.3,916.7,936.7,956,977],
   shapes:['up','down','square','up','down','square'],colors:[BLUE,RED,GREEN,'#000','#000','#000']}},
 {id:'D',letter:[822,24],rect:[887,24.3,1471,414.3],x0:1146.9,kx:7.36,y0:223,ky:7.37,xTicks:dXTicks,yTicks:dYTicks,
  stress:[1466,34],ylab:[844,218],
  hulls:[{d:dHull2017,c:CYAN,a:.62,s:CYAN},{d:dHull2016,c:MAGENTA,a:.65,s:MAGENTA},{d:dHull2018,c:HULLBLUE,a:.65,s:LINEBLUE},{d:dHull2020,c:HULLGREEN,a:.7,s:GREEN},{d:dHull2019,c:RED,a:.58,s:LINERED}],
  overlaps:[[1,0,'#93aedb'],[2,0,'#4f74b9'],[3,2,'#2bb585'],[4,2,'#c0397a']],
  series:[[d2016,'up',MAGENTA],[d2017,'down',CYAN],[d2018,'square',BLUE],[d2019,'diamond',RED],[d2020,'circle',GREEN]],
  averages:dAverages,avShapes:['up','down','square','diamond','circle'],
  legend:{box:[1481.6,26.7,1637,299],title:'Fishing season',titleX:1488,titleY:39,titleAnchor:'start',fs:21,sx:.92,tfs:20.8,tsx:.96,mx:1494.7,tx:1509,ms:16,
   labels:seasonLabels,rows:[64,88.3,113.3,137.7,162.3,188.3,212.7,237,261.7,287.3],
   shapes:['up','down','square','diamond','circle','up','down','square','diamond','circle'],
   colors:[MAGENTA,CYAN,BLUE,RED,GREEN,'#000','#000','#000','#000','#000']}},
 {id:'E',letter:[822,435],rect:[887,435.3,1467.5,823.3],x0:1223.2,kx:4.7,y0:639.3,ky:4.73,xTicks:eXTicks,yTicks:eYTicks,
  stress:[1460.7,445.7],ylab:[844,644],
  hulls:[{d:eHullLow,c:HULLBLUE,a:.65,s:LINEBLUE},{d:eHullHigh,c:HULLGREEN,a:.7,s:GREEN},{d:eHullMid,c:RED,a:.58,s:LINERED}],
  overlaps:[[2,0,'#70509f']],
  series:[[eLow,'up',BLUE],[eMid,'down',RED],[eHigh,'square',GREEN]],
  averages:eAverages,avShapes:['up','down','square'],
  legend:{box:[1483,436.7,1637.5,596.7],title:'Depth (m)',titleX:1561.6,titleY:448.3,titleAnchor:'middle',fs:18.5,sx:.96,tfs:18.5,tsx:.96,mx:1495.7,tx:1509,ms:15,
   labels:depthLabels,rows:[471,494,516.7,539,562,585.3],
   shapes:['up','down','square','up','down','square'],colors:[BLUE,RED,GREEN,'#000','#000','#000']}},
 {id:'F',letter:[822,844],rect:[887,849,1467.5,1236.3],x0:1168.3,kx:9.17,y0:1027,ky:9.18,xTicks:fXTicks,yTicks:fYTicks,
  stress:[1461,859.3],ylab:[844,1043.5],xlab:[1172,1291],
  hulls:[{d:fHullLow,c:HULLBLUE,a:.47,s:LINEBLUE},{d:fHullHigh,c:HULLGREEN,a:.7,s:GREEN},{d:fHullMid,c:RED,a:.58,s:LINERED}],
  overlaps:[[1,0,'#48b98a'],[2,0,'#c9427a'],[2,1,'#7f9a3a']],
  series:[[fMid,'down',RED],[fLow,'up',BLUE],[fHigh,'square',GREEN]],
  averages:fAverages,avShapes:['up','down','square'],
  legend:{box:[1484,854.3,1638.5,995.7],title:'Size class (cm, TL)',titleX:1488.5,titleY:865,titleAnchor:'start',fs:15.5,sx:1,tfs:16.5,tsx:.985,mx:1494,tx:1506,ms:13,
   labels:sizeLabels,rows:[885.3,905.7,925.3,945,965,986],
   shapes:['up','down','square','up','down','square'],colors:[BLUE,RED,GREEN,'#000','#000','#000']}}
];

/* ---------- drawing ---------- */
const NS='http://www.w3.org/2000/svg';
const root=document.getElementById('figure');
let uid=0;
function mk(tag,parent,attrs){
  const el=document.createElementNS(NS,tag);
  for(const k in attrs) el.setAttribute(k,attrs[k]);
  parent.appendChild(el);
  return el;
}
function label(parent,str,x,y,size,anchor,bold,sx,color){
  const t=mk('text',parent,{transform:'translate('+x+' '+y+') scale('+sx+' 1)','font-size':size,'text-anchor':anchor,fill:color||'#222','font-weight':bold?'700':'400'});
  t.textContent=str;
  return t;
}
function drawMarker(parent,shape,cx,cy,s,color){
  const h=s/2;
  let el;
  if(shape==='circle'){
    el=mk('circle',parent,{cx:cx,cy:cy,r:h*.86,fill:color});
  }else if(shape==='square'){
    el=mk('rect',parent,{x:cx-h*.85,y:cy-h*.85,width:s*.85,height:s*.85,fill:color});
  }else{
    let p;
    const v=h*.85;
    if(shape==='up') p=[[cx,cy-v],[cx+h,cy+v],[cx-h,cy+v]];
    if(shape==='down') p=[[cx-h,cy-v],[cx+h,cy-v],[cx,cy+v]];
    if(shape==='diamond') p=[[cx,cy-h*1.03],[cx+h*.93,cy],[cx,cy+h*1.03],[cx-h*.93,cy]];
    el=mk('polygon',parent,{points:p.map(q=>q[0].toFixed(1)+','+q[1].toFixed(1)).join(' '),fill:color});
  }
  return el;
}
function hullPath(h,sx,sy){
  if(Array.isArray(h[0])){
    const P=h.map(p=>[sx(p[0]),sy(p[1])]);
    const n=P.length;
    let d='M'+P[0][0].toFixed(1)+' '+P[0][1].toFixed(1);
    for(let i=0;i<n;i++){
      const a=P[(i-1+n)%n],b=P[i],c=P[(i+1)%n],e=P[(i+2)%n];
      d+=' C'+(b[0]+(c[0]-a[0])/6).toFixed(1)+' '+(b[1]+(c[1]-a[1])/6).toFixed(1)+' '+(c[0]-(e[0]-b[0])/6).toFixed(1)+' '+(c[1]-(e[1]-b[1])/6).toFixed(1)+' '+c[0].toFixed(1)+' '+c[1].toFixed(1);
    }
    return d+'Z';
  }
  const cx=h[0],cy=h[1],rx=h[2],ry=h[3],ang=h[4]*Math.PI/180;
  let d='';
  for(let i=0;i<72;i++){
    const t=i/72*2*Math.PI;
    const ux=rx*Math.cos(t),uy=ry*Math.sin(t);
    const px=cx+ux*Math.cos(ang)-uy*Math.sin(ang);
    const py=cy+ux*Math.sin(ang)+uy*Math.cos(ang);
    d+=(i?'L':'M')+sx(px).toFixed(1)+' '+sy(py).toFixed(1);
  }
  return d+'Z';
}
function drawPanel(p){
  const x=v=>p.x0+v*p.kx;
  const y=v=>p.y0-v*p.ky;
  const [L,T,R,B]=p.rect;
  const g=mk('g',root,{});
  
  

  const letter=label(g,p.id,p.letter[0],p.letter[1],25,'start',true,1,'#000');
  
  

  const clipId='plotclip'+(uid++);
  const defs=mk('defs',g,{});
  const cp=mk('clipPath',defs,{id:clipId});
  mk('rect',cp,{x:L,y:T,width:R-L,height:B-T});

  const plot=mk('g',g,{'clip-path':'url(#'+clipId+')'});
  
  

  const paths=p.hulls.map(h=>hullPath(h.d,x,y));
  p.hulls.forEach((h,i)=>{
    const el=mk('path',plot,{d:paths[i],fill:h.c,'fill-opacity':h.a});
    
    
  });
  p.overlaps.forEach(o=>{
    const id='ov'+(uid++);
    const c=mk('clipPath',defs,{id:id});
    mk('path',c,{d:paths[o[1]]});
    const el=mk('path',plot,{d:paths[o[0]],fill:o[2],'clip-path':'url(#'+id+')'});
    
    
  });
  p.hulls.forEach((h,i)=>{
    const el=mk('path',plot,{d:paths[i],fill:'none',stroke:h.s,'stroke-width':1});
    
    
  });
  p.series.forEach(s=>{
    s[0].forEach(pt=>{
      const el=drawMarker(plot,s[1],x(pt[0]),y(pt[1]),12,s[2]);
      
      
    });
  });
  p.averages.forEach((pt,i)=>{
    const el=drawMarker(plot,p.avShapes[i],x(pt[0]),y(pt[1]),11.5,'#000');
    
    
  });

  const frame=mk('rect',g,{x:L,y:T,width:R-L,height:B-T,fill:'none',stroke:'#4a4a4a','stroke-width':1.5});
  
  

  p.xTicks.forEach(v=>{
    const tm=mk('line',g,{x1:x(v),x2:x(v),y1:B,y2:B+5,stroke:'#555','stroke-width':1});
    
    
    const tl=label(g,String(v),x(v),B+20.5,16.5,'middle',false,.93,'#222');
    
    
  });
  p.yTicks.forEach(v=>{
    const tm=mk('line',g,{x1:L-5,x2:L,y1:y(v),y2:y(v),stroke:'#555','stroke-width':1});
    
    
    const tl=label(g,String(v),L-8,y(v)+6,16.5,'end',false,.93,'#222');
    
    
  });

  const st=label(g,'2D Stress: '+stressValues[p.id],p.stress[0],p.stress[1]+3.5,10,'end',false,1,'#222');
  
  

  const yt=mk('text',g,{transform:'translate('+p.ylab[0]+' '+p.ylab[1]+') rotate(-90)','font-size':24,'text-anchor':'middle',fill:'#111'});
  yt.textContent='MDS2';
  
  
  if(p.xlab){
    const xt=label(g,'MDS1',p.xlab[0],p.xlab[1],24,'middle',false,.97,'#111');
    
    
  }

  const lg=p.legend;
  const lgG=mk('g',g,{});
  
  
  const box=mk('rect',lgG,{x:lg.box[0],y:lg.box[1],width:lg.box[2]-lg.box[0],height:lg.box[3]-lg.box[1],fill:'#fff',stroke:'#111','stroke-width':1.5});
  
  
  const ttl=label(lgG,lg.title,lg.titleX,lg.titleY+lg.tfs*.36,lg.tfs,lg.titleAnchor,true,lg.tsx,'#111');
  
  
  lg.labels.forEach((txt,i)=>{
    const m=drawMarker(lgG,lg.shapes[i],lg.mx,lg.rows[i],lg.ms,lg.colors[i]);
    
    
    const t=label(lgG,txt,lg.tx,lg.rows[i]+lg.fs*.36,lg.fs,'start',false,lg.sx,'#222');
    
    
  });
}
panels.forEach(drawPanel);
</script>
</body>
</html>
